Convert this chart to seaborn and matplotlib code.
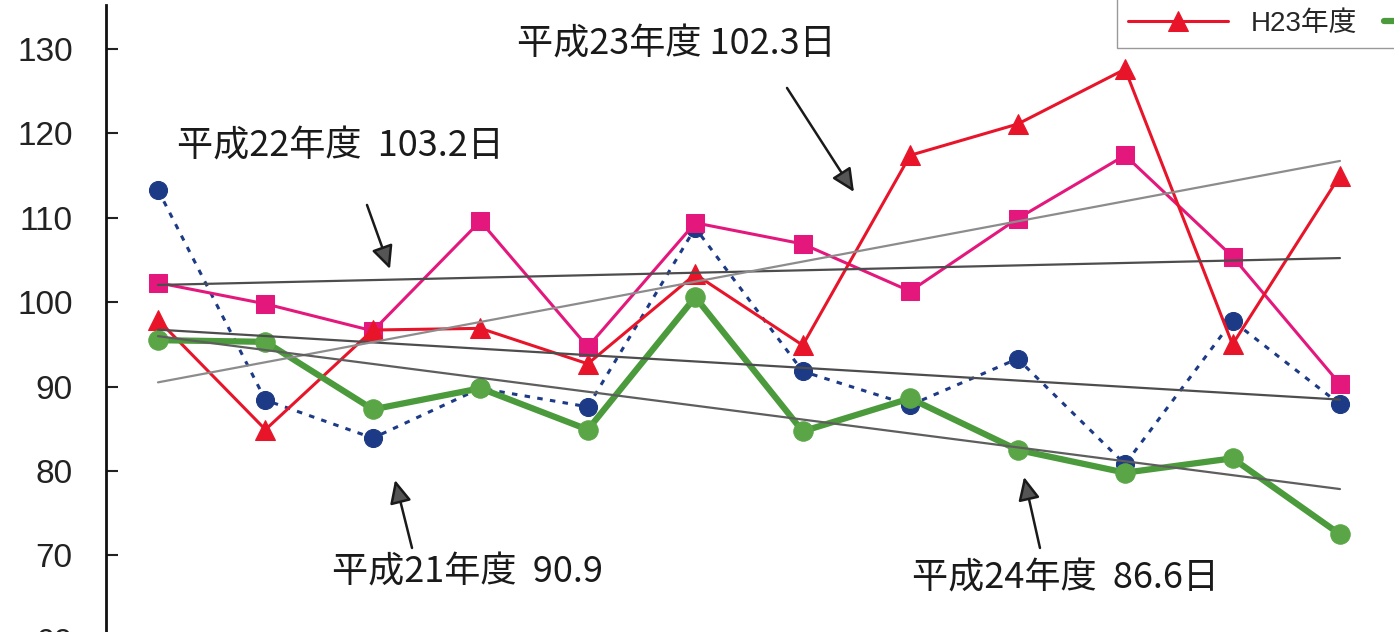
import numpy as np
import pandas as pd
import matplotlib
matplotlib.use("Agg")
import matplotlib.pyplot as plt
import seaborn as sns

# monthly values for each fiscal year
months = list(range(12))
h21 = [113.3, 88.4, 83.9, 89.8, 87.6, 108.8, 91.8, 87.8, 93.3, 80.8, 97.8, 87.9]
h22 = [102.3, 99.8, 96.6, 109.6, 94.7, 109.4, 106.9, 101.3, 109.9, 117.4, 105.4, 90.3]
h23 = [97.9, 84.9, 96.7, 96.9, 92.7, 103.3, 94.9, 117.4, 121.1, 127.6, 95.0, 115.0]
h24 = [95.5, 95.3, 87.3, 89.8, 84.9, 100.6, 84.7, 88.6, 82.5, 79.8, 81.5, 72.5]
series_names = ["H21年度", "H22年度", "H23年度", "H24年度"]
yticks = [60, 70, 80, 90, 100, 110, 120, 130]
notes = ["平成21年度  90.9", "平成22年度  103.2日", "平成23年度 102.3日", "平成24年度  86.6日"]

sns.set_style("white")
plt.rcParams['font.family'] = ['Liberation Sans', 'Noto Sans CJK JP']

fig = plt.figure(figsize=(13.94, 6.32), dpi=100)
ax = fig.add_axes([106 / 1394, -0.0791, 1 - 106 / 1394, 1.0712])

# series
sns.lineplot(x=months, y=h21, ax=ax, color="#1c3a85", lw=2.2, linestyle=(0, (1.8, 2.4)),
             marker="o", markersize=13, markeredgecolor="#1c3a85", label=series_names[0], zorder=2)
sns.lineplot(x=months, y=h22, ax=ax, color="#e4187c", lw=2.2,
             marker="s", markersize=13, markeredgecolor="#e4187c", label=series_names[1], zorder=3)
sns.lineplot(x=months, y=h23, ax=ax, color="#e8152a", lw=2.2,
             marker="^", markersize=14, markeredgecolor="#e8152a", label=series_names[2], zorder=4)
sns.lineplot(x=months, y=h24, ax=ax, color="#4b9a3b", lw=4.5,
             marker="o", markersize=14, markerfacecolor="#5aa647", markeredgecolor="#5aa647",
             label=series_names[3], zorder=5)

# linear trend lines
for vals, c in [(h21, "#4d4d4d"), (h22, "#4d4d4d"), (h23, "#8c8c8c"), (h24, "#5e5e5e")]:
    sns.regplot(x=months, y=vals, ax=ax, scatter=False, ci=None, truncate=True,
                line_kws={"color": c, "lw": 1.6, "zorder": 6})

ax.set_xlim(-0.484, 11.503)
ax.set_ylim(55, 135.21)
ax.set_yticks(yticks)
ax.set_xticks([])
ax.set_xlabel("")
ax.set_ylabel("")
for s in ["top", "right", "bottom"]:
    ax.spines[s].set_visible(False)
ax.spines["left"].set_linewidth(2)
ax.spines["left"].set_color("#111111")
ax.tick_params(axis="y", direction="in", length=8.6, width=1.5, pad=24,
               labelsize=24, colors="#222222", left=True)

# annotations
tfont = dict(fontsize=26, family=['Noto Sans CJK JP'], color="#1a1a1a", ha="center", va="center")
ax.text(2.885, 68.03, notes[0], **tfont)
ax.text(1.694, 118.39, notes[1], **tfont)
ax.text(4.821, 130.47, notes[2], **tfont)
ax.text(8.450, 67.32, notes[3], **tfont)

aprops = dict(arrowstyle="-|>,head_length=0.7,head_width=0.33", mutation_scale=20,
              fc="#555555", ec="#1a1a1a", lw=1.8, shrinkA=0, shrinkB=0)
for tail, tip in [((2.364, 70.88), (2.206, 78.93)),
                  ((1.945, 111.52), (2.159, 103.93)),
                  ((5.854, 125.38), (6.477, 113.06)),
                  ((8.208, 70.88), (8.060, 79.29))]:
    ax.annotate("", xy=tip, xytext=tail, arrowprops=aprops, zorder=7)

# legend (top row falls outside the cropped picture)
handles, labels = ax.get_legend_handles_labels()
ax.get_legend().remove()
order = [0, 2, 1, 3]
fig.legend([handles[i] for i in order], [labels[i] for i in order], ncol=2,
           loc="lower left", bbox_to_anchor=(1117 / 1394, 584 / 632), borderaxespad=0,
           fontsize=20, handlelength=3.6, fancybox=False, framealpha=1,
           edgecolor="#999999", columnspacing=1.0)

fig.savefig("out.png", dpi=100)
